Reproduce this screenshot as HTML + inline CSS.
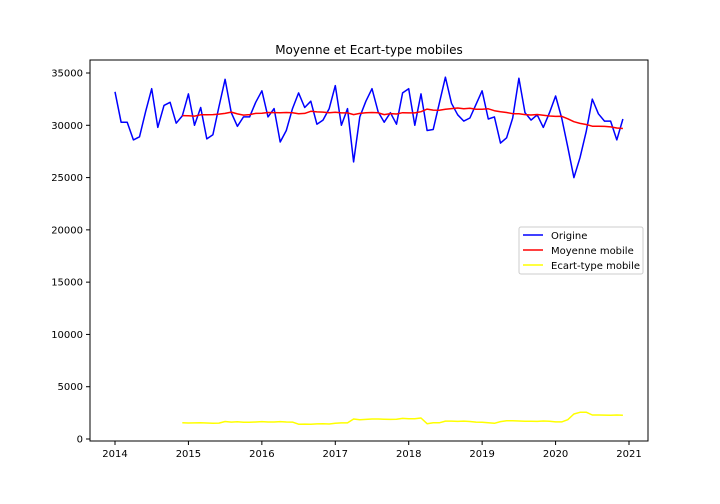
<!DOCTYPE html>
<html><head><meta charset="utf-8"><style>
body{margin:0;background:#fff}
svg{display:block;font-family:"DejaVu Sans","Liberation Sans",sans-serif}
</style></head><body>
<svg id="chart" width="720" height="504">
<rect width="720" height="504" fill="#fff"/>
<text x="369" y="54" font-size="12" text-anchor="middle">Moyenne et Ecart-type mobiles</text>
<g id="plot"></g>
<rect x="90" y="60" width="558" height="381" fill="none" stroke="#000" stroke-width="1"/>
<g>
<rect x="519" y="227" width="124" height="47" rx="2" fill="#fff" fill-opacity="0.8" stroke="#ccc"/>
<line x1="523" y1="235" x2="543" y2="235" stroke="#0000ff" stroke-width="1.5"/>
<text x="551" y="239" font-size="10">Origine</text>
<line x1="523" y1="250" x2="543" y2="250" stroke="#ff0000" stroke-width="1.5"/>
<text x="551" y="254" font-size="10">Moyenne mobile</text>
<line x1="523" y1="265" x2="543" y2="265" stroke="#ffff00" stroke-width="1.5"/>
<text x="551" y="269" font-size="10">Ecart-type mobile</text>
</g>
</svg>
<script>
const origine = [
33200,30300,30300,28600,28900,31300,33500,29800,31900,32200,30200,30900,
33000,30000,31700,28700,29100,31800,34400,31200,29900,30800,30800,32200,
33300,30800,31600,28400,29500,31600,33100,31700,32300,30100,30500,31600,
33800,30000,31600,26500,30800,32300,33500,31300,30300,31200,30100,33100,
33500,30000,33000,29500,29600,32100,34600,32100,31000,30400,30700,32000,
33300,30600,30800,28300,28800,30700,34500,31200,30500,31000,29800,31200,
32800,30700,27900,25000,26900,29400,32500,31100,30400,30400,28600,30600];
const yTicks = [0,5000,10000,15000,20000,25000,30000,35000];
const xTicks = [2014,2015,2016,2017,2018,2019,2020,2021];
const windowSize = 12;

const svg = document.getElementById('chart');
const plot = document.getElementById('plot');
const NS = 'http://www.w3.org/2000/svg';
function xs(i){ return 115 + i * (514/84); }
function xYear(y){ return xs((y-2014)*12); }
function ys(v){ return 439 - v * 0.010457; }

const mean = [], std = [];
for (let i = 0; i < origine.length; i++) {
  if (i < windowSize-1) { mean.push(null); std.push(null); continue; }
  const w = origine.slice(i-windowSize+1, i+1);
  const m = w.reduce((a,b)=>a+b,0)/w.length;
  const s = Math.sqrt(w.reduce((a,b)=>a+(b-m)*(b-m),0)/(w.length-1));
  mean.push(m); std.push(s);
}

yTicks.forEach(t => {
  const y = ys(t);
  const l = document.createElementNS(NS,'line');
  l.setAttribute('x1',86); l.setAttribute('x2',90); l.setAttribute('y1',y); l.setAttribute('y2',y);
  l.setAttribute('stroke','#000');
  
  
  svg.appendChild(l);
  const tx = document.createElementNS(NS,'text');
  tx.setAttribute('x',83); tx.setAttribute('y',y+3.5); tx.setAttribute('font-size','10'); tx.setAttribute('text-anchor','end');
  tx.textContent = t;
  
  
  svg.appendChild(tx);
});
xTicks.forEach(t => {
  const x = xYear(t);
  const l = document.createElementNS(NS,'line');
  l.setAttribute('x1',x); l.setAttribute('x2',x); l.setAttribute('y1',441); l.setAttribute('y2',445);
  l.setAttribute('stroke','#000');
  
  
  svg.appendChild(l);
  const tx = document.createElementNS(NS,'text');
  tx.setAttribute('x',x); tx.setAttribute('y',457); tx.setAttribute('font-size','10'); tx.setAttribute('text-anchor','middle');
  tx.textContent = t;
  
  
  svg.appendChild(tx);
});

function drawLine(vals, color, name){
  const pts = [];
  vals.forEach((v,i)=>{ if (v!==null) pts.push(xs(i).toFixed(1)+','+ys(v).toFixed(1)); });
  const p = document.createElementNS(NS,'polyline');
  p.setAttribute('points', pts.join(' '));
  p.setAttribute('fill','none'); p.setAttribute('stroke',color); p.setAttribute('stroke-width','1.5');
  p.setAttribute('stroke-linejoin','round');
  
  
  plot.appendChild(p);
}
drawLine(origine,'#0000ff','origine-line');
drawLine(mean,'#ff0000','moyenne-mobile-line');
drawLine(std,'#ffff00','ecart-type-mobile-line');
</script>
</body></html>
